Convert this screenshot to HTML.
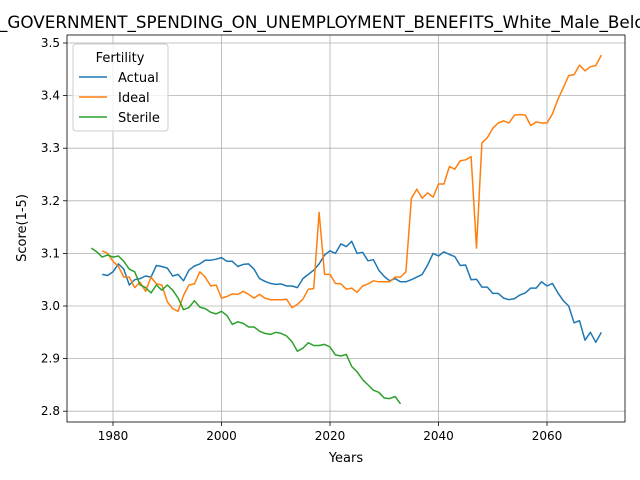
<!DOCTYPE html>
<html><head><meta charset="utf-8"><style>body{margin:0;background:#fff}svg{display:block;font-family:"DejaVu Sans","Liberation Sans",sans-serif}</style></head>
<body>
<svg id="chart" width="640" height="480" viewBox="0 0 640 480" xmlns="http://www.w3.org/2000/svg">
<rect width="640" height="480" fill="#fff"/>
<text x="-48" y="28" font-size="16.8">Score_GOVERNMENT_SPENDING_ON_UNEMPLOYMENT_BENEFITS_White_Male_Below_High_School</text>
<g id="grid"></g><g id="series"></g><g id="axes"></g>
<text x="346" y="462" font-size="13" text-anchor="middle">Years</text>
<text transform="translate(26,228) rotate(-90)" font-size="13" text-anchor="middle">Score(1-5)</text>
<g>
<rect x="73" y="44" width="95" height="87" rx="3" fill="#fff" fill-opacity="0.8" stroke="#ccc"/>
<text x="120" y="62" font-size="13" text-anchor="middle">Fertility</text>
<line x1="79" y1="77" x2="107" y2="77" stroke="#1f77b4" stroke-width="1.5"/><text x="118" y="82" font-size="13">Actual</text>
<line x1="79" y1="97" x2="107" y2="97" stroke="#ff7f0e" stroke-width="1.5"/><text x="118" y="102" font-size="13">Ideal</text>
<line x1="79" y1="117" x2="107" y2="117" stroke="#2ca02c" stroke-width="1.5"/><text x="118" y="122" font-size="13">Sterile</text>
</g>
</svg>
<script>
const actualStart = 1978;
const actualValues = [3.06,3.058,3.065,3.08,3.07,3.04,3.05,3.052,3.057,3.055,
3.077,3.075,3.072,3.057,3.06,3.048,3.068,3.076,3.08,3.087,
3.087,3.089,3.092,3.085,3.085,3.075,3.079,3.08,3.07,3.052,
3.047,3.043,3.041,3.042,3.038,3.038,3.035,3.052,3.06,3.068,
3.08,3.097,3.105,3.1,3.118,3.113,3.123,3.1,3.102,3.086,
3.088,3.068,3.056,3.048,3.052,3.046,3.046,3.05,3.055,3.06,
3.078,3.1,3.095,3.103,3.098,3.094,3.077,3.078,3.05,3.051,
3.036,3.036,3.024,3.024,3.015,3.012,3.014,3.021,3.025,3.034,
3.034,3.046,3.038,3.043,3.025,3.01,3.0,2.968,2.972,2.935,
2.95,2.931,2.95];
const idealStart = 1978;
const idealValues = [3.105,3.1,3.085,3.075,3.055,3.055,3.035,3.045,3.028,3.055,
3.042,3.04,3.008,2.995,2.99,3.02,3.04,3.042,3.065,3.055,
3.038,3.04,3.015,3.018,3.023,3.022,3.028,3.022,3.015,3.022,
3.015,3.012,3.012,3.012,3.013,2.997,3.003,3.013,3.032,3.033,
3.178,3.06,3.06,3.043,3.042,3.032,3.034,3.026,3.038,3.042,
3.048,3.046,3.046,3.046,3.055,3.055,3.065,3.205,3.222,3.205,
3.215,3.207,3.232,3.232,3.265,3.26,3.276,3.278,3.284,3.11,
3.31,3.32,3.338,3.348,3.352,3.348,3.363,3.364,3.363,3.343,
3.35,3.348,3.348,3.365,3.393,3.415,3.438,3.44,3.458,3.447,
3.455,3.457,3.477];
const sterileStart = 1976;
const sterileValues = [3.11,3.103,3.093,3.097,3.093,3.095,3.085,3.07,3.065,3.04,
3.035,3.025,3.04,3.03,3.04,3.03,3.015,2.993,2.997,3.01,
2.998,2.995,2.988,2.985,2.99,2.982,2.965,2.97,2.967,2.96,
2.96,2.952,2.948,2.946,2.95,2.948,2.943,2.932,2.914,2.92,
2.93,2.925,2.925,2.927,2.922,2.907,2.905,2.908,2.885,2.875,
2.86,2.85,2.84,2.836,2.825,2.824,2.828,2.814];
const xTicks = [1980,2000,2020,2040,2060];
const yTicks = [2.8,2.9,3.0,3.1,3.2,3.3,3.4,3.5];

const L=67,R=625,T=35,B=422;
const X = y => 113 + (y-1980)*(330-113)/40;
const Y = v => 306 - (v-3.0)*526;
const NS="http://www.w3.org/2000/svg";
function mk(tag, attrs, parent){const e=document.createElementNS(NS,tag);for(const k in attrs)e.setAttribute(k,attrs[k]);parent.appendChild(e);return e;}
const grid=document.getElementById('grid'), axes=document.getElementById('axes'), ser=document.getElementById('series');
xTicks.forEach(t=>{
  const g=mk('line',{x1:X(t),x2:X(t),y1:T,y2:B,stroke:'#b0b0b0','stroke-width':0.8},grid);
  
  
  mk('line',{x1:X(t),x2:X(t),y1:B,y2:B+4,stroke:'#000','stroke-width':0.8},axes);
  const tx=mk('text',{x:X(t),y:B+18,'font-size':12,'text-anchor':'middle'},axes);
  
  
  tx.textContent=t;
});
yTicks.forEach(t=>{
  const g=mk('line',{x1:L,x2:R,y1:Y(t),y2:Y(t),stroke:'#b0b0b0','stroke-width':0.8},grid);
  
  
  mk('line',{x1:L-4,x2:L,y1:Y(t),y2:Y(t),stroke:'#000','stroke-width':0.8},axes);
  const tx=mk('text',{x:L-7,y:Y(t)+4,'font-size':12,'text-anchor':'end'},axes);
  
  
  tx.textContent=t.toFixed(1);
});
const fr=mk('rect',{x:L,y:T,width:R-L,height:B-T,fill:'none',stroke:'#000','stroke-width':0.8},axes);


function line(start, vals, color, name){
  const d=vals.map((v,i)=>(i?'L':'M')+X(start+i).toFixed(1)+','+Y(v).toFixed(1)).join('');
  const p=mk('path',{d:d,fill:'none',stroke:color,'stroke-width':1.5,'stroke-linejoin':'round'},ser);
  
  
}
line(actualStart,actualValues,'#1f77b4','actual-line');
line(idealStart,idealValues,'#ff7f0e','ideal-line');
line(sterileStart,sterileValues,'#2ca02c','sterile-line');
</script>
</body></html>
